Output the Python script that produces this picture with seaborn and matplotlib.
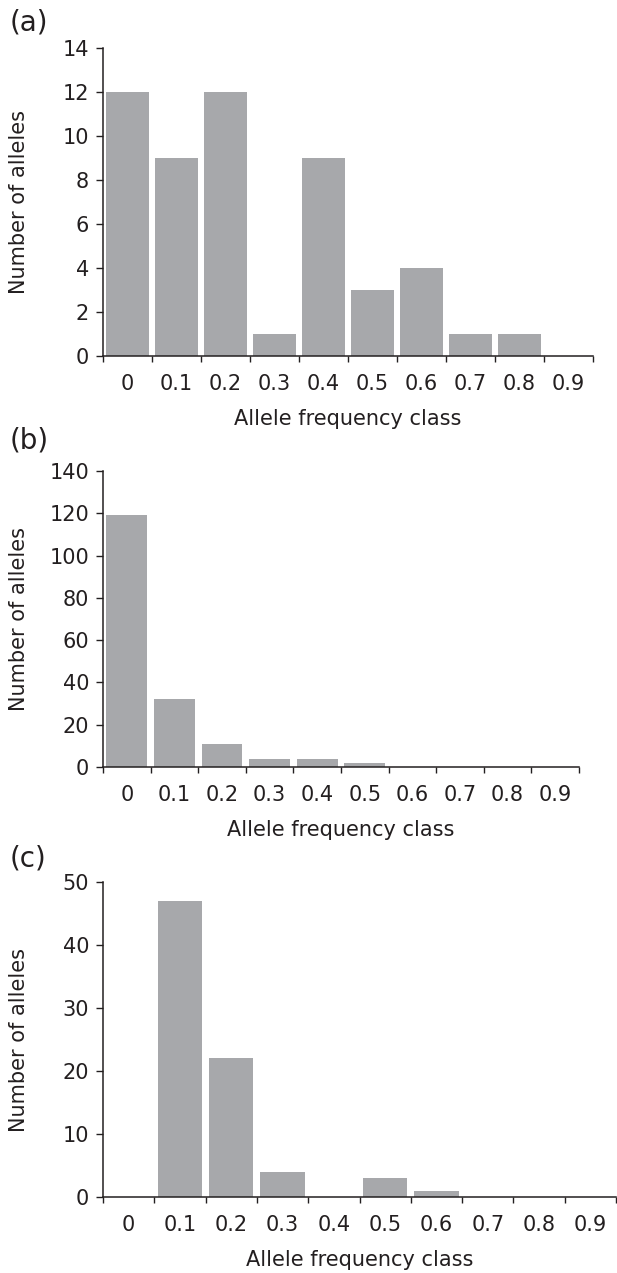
import numpy as np
import pandas as pd
import matplotlib
matplotlib.use("Agg")
import matplotlib.pyplot as plt
import seaborn as sns
from matplotlib.ticker import FixedLocator

classes = ["0", "0.1", "0.2", "0.3", "0.4", "0.5", "0.6", "0.7", "0.8", "0.9"]
counts_a = [12, 9, 12, 1, 9, 3, 4, 1, 1, 0]
counts_b = [119, 32, 11, 4, 4, 2, 0, 0, 0, 0]
counts_c = [0, 47, 22, 4, 0, 3, 1, 0, 0, 0]

yticks_a = [0, 2, 4, 6, 8, 10, 12, 14]
yticks_b = [0, 20, 40, 60, 80, 100, 120, 140]
yticks_c = [0, 10, 20, 30, 40, 50]

sns.set_style("white")
plt.rcParams["font.family"] = ["DejaVu Sans"]

BAR = "#a7a8ab"
INK = "#231f20"
FS = 15

W, H = 617, 1273
fig = plt.figure(figsize=(W / 100, H / 100), dpi=100)


def px_axes(left, right, top, bottom):
    return fig.add_axes([left / W, 1 - bottom / H, (right - left) / W, (bottom - top) / H])


panels = [
    ("(a)", counts_a, yticks_a, (103, 593, 48, 356), 22),
    ("(b)", counts_b, yticks_b, (103, 579, 471, 767), 440),
    ("(c)", counts_c, yticks_c, (103, 616, 882, 1197), 858),
]

for tag, counts, yt, box, tag_y in panels:
    ax = px_axes(*box)
    df = pd.DataFrame({"cls": classes, "n": counts})
    sns.barplot(data=df, x="cls", y="n", color=BAR, saturation=1, width=0.86,
                edgecolor="none", ax=ax)
    ax.set_xlim(-0.5, len(classes) - 0.5)
    ax.set_ylim(yt[0], yt[-1])
    ax.set_yticks(yt)
    ax.xaxis.set_minor_locator(FixedLocator(np.arange(-0.5, len(classes), 1.0)))
    ax.tick_params(axis="x", which="major", length=0, pad=13, labelsize=FS, colors=INK)
    ax.tick_params(axis="x", which="minor", length=4.5, width=1, color=INK, direction="out",
                   bottom=True)
    ax.tick_params(axis="y", length=5, width=1, color=INK, direction="out", left=True,
                   pad=5, labelsize=FS, labelcolor=INK)
    for s in ["top", "right"]:
        ax.spines[s].set_visible(False)
    for s in ["left", "bottom"]:
        ax.spines[s].set_color(INK)
        ax.spines[s].set_linewidth(1.1)
    ax.set_xlabel("Allele frequency class", fontsize=FS, color=INK, labelpad=11)
    ax.set_ylabel("Number of alleles", fontsize=FS, color=INK)
    ax.yaxis.set_label_coords(-(box[0] - 29) / (box[1] - box[0]), 0.5)
    fig.text(10 / W, 1 - tag_y / H, tag, fontsize=20, color=INK, ha="left", va="center")

fig.savefig("out.png", dpi=100, facecolor="white")
